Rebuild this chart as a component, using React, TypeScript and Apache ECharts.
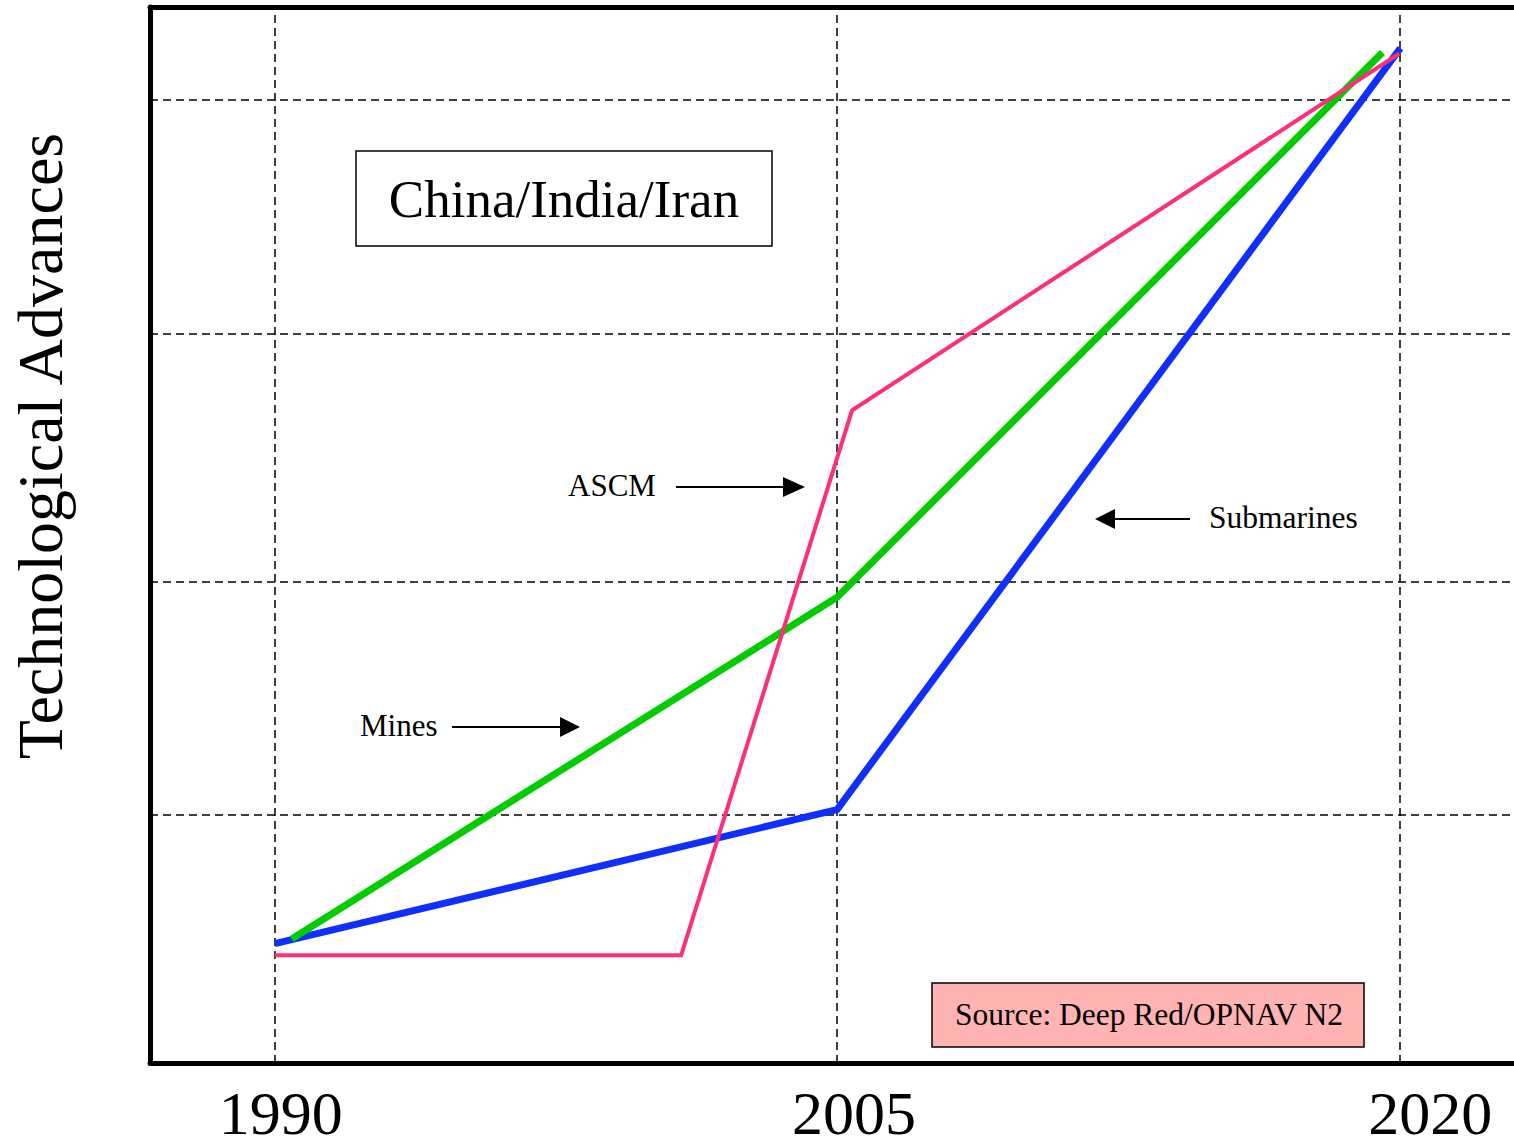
import React, { useEffect, useRef } from "react";
import * as echarts from "echarts";

// ---- data (x = year, y = relative technological level, 0..100) ----
const yearTicks = [1990, 2005, 2020];
const hGridLevels = [23.5, 45.6, 69.1, 91.2];

const submarinesYears = [1990, 2005, 2020.03];
const submarinesLevels = [11.3, 24.0, 96.1];

const minesYears = [1990.45, 2005, 2019.55];
const minesLevels = [11.75, 44.1, 95.7];

const ascmYears = [1990, 2000.84, 2005.4, 2020];
const ascmLevels = [10.2, 10.2, 61.8, 95.6];

const seriesNames = ["Submarines", "Mines", "ASCM"];

const FONT = "'Liberation Serif', 'Times New Roman', Times, serif";

const zip = (xs: number[], ys: number[]) => xs.map((x, i) => [x, ys[i]]);

// label horizontal nudges (style only)
const labelPadLeft = [12, 34, 62];

export default function App() {
  const ref = useRef<HTMLDivElement>(null);

  useEffect(() => {
    if (!ref.current) return;
    const chart = echarts.init(ref.current, undefined, { renderer: "svg" });

    const rich: any = {};
    labelPadLeft.forEach((p, i) => {
      rich["l" + i] = {
        fontSize: 62,
        fontFamily: FONT,
        color: "#000",
        lineHeight: 46,
        padding: [0, 0, 0, p],
      };
    });

    const gridLineStyle = { color: "#000", type: [8, 5], width: 1.5 };

    const option: any = {
      animation: false,
      backgroundColor: "#fff",
      grid: { left: 148, top: 7, right: 0, bottom: 76, containLabel: false },
      xAxis: [
        {
          type: "value",
          min: 1986.67,
          max: 2023.06,
          position: "bottom",
          axisLine: { show: true, onZero: false, lineStyle: { color: "#000", width: 5 } },
          axisTick: { show: false },
          splitLine: { show: false },
          axisLabel: {
            customValues: yearTicks,
            margin: 27,
            fontSize: 62,
            lineHeight: 46,
            fontFamily: FONT,
            color: "#000",
            formatter: (v: number) => {
              const i = yearTicks.indexOf(Math.round(v));
              return i >= 0 ? `{l${i}|${Math.round(v)}}` : "";
            },
            rich,
          },
        },
        {
          type: "value",
          min: 1986.67,
          max: 2023.06,
          position: "top",
          axisLine: { show: true, onZero: false, lineStyle: { color: "#000", width: 5 } },
          axisTick: { show: false },
          axisLabel: { show: false },
          splitLine: { show: false },
        },
      ],
      yAxis: {
        type: "value",
        min: 0,
        max: 100,
        axisLine: { show: true, onZero: false, lineStyle: { color: "#000", width: 5 } },
        axisTick: { show: false },
        axisLabel: { show: false },
        splitLine: { show: false },
        name: "Technological Advances",
        nameLocation: "middle",
        nameRotate: 90,
        nameGap: 78,
        nameTextStyle: {
          fontSize: 64,
          fontFamily: FONT,
          color: "#000",
          padding: [0, 0, 0, 178],
        },
      },
      series: [
        {
          name: "grid",
          type: "line",
          data: [[1990, 0]],
          showSymbol: false,
          symbol: "none",
          lineStyle: { opacity: 0 },
          silent: true,
          z: 1,
          markLine: {
            z: 1,
            silent: true,
            symbol: ["none", "none"],
            label: { show: false },
            lineStyle: gridLineStyle,
            emphasis: { disabled: true },
            data: [
              ...yearTicks.map((y) => ({ xAxis: y })),
              ...hGridLevels.map((l) => ({ yAxis: l })),
            ],
          },
        },
        {
          name: seriesNames[0],
          type: "line",
          data: zip(submarinesYears, submarinesLevels),
          symbol: "none",
          lineStyle: { color: "#0f2fff", width: 7, cap: "butt", join: "miter" },
          itemStyle: { color: "#0f2fff" },
          z: 3,
        },
        {
          name: seriesNames[1],
          type: "line",
          data: zip(minesYears, minesLevels),
          symbol: "none",
          lineStyle: { color: "#00cc00", width: 7, cap: "butt", join: "miter" },
          itemStyle: { color: "#00cc00" },
          z: 4,
        },
        {
          name: seriesNames[2],
          type: "line",
          data: zip(ascmYears, ascmLevels),
          symbol: "none",
          lineStyle: { color: "#ff2e78", width: 4, cap: "butt", join: "miter" },
          itemStyle: { color: "#ff2e78" },
          z: 5,
        },
      ],
      graphic: [
        {
          type: "rect",
          z: 10,
          shape: { x: 356, y: 151, width: 416, height: 95 },
          style: { fill: "#fff", stroke: "#000", lineWidth: 1.5 },
        },
        {
          type: "text",
          z: 11,
          x: 564,
          y: 199,
          style: {
            text: "China/India/Iran",
            fontSize: 53,
            fontFamily: FONT,
            fill: "#000",
            align: "center",
            verticalAlign: "middle",
          },
        },
        {
          type: "rect",
          z: 10,
          shape: { x: 932, y: 983, width: 432, height: 64 },
          style: { fill: "#ffb3b3", stroke: "#000", lineWidth: 1.5 },
        },
        {
          type: "text",
          z: 11,
          x: 1149,
          y: 1014,
          style: {
            text: "Source: Deep Red/OPNAV N2",
            fontSize: 31.5,
            fontFamily: FONT,
            fill: "#000",
            align: "center",
            verticalAlign: "middle",
          },
        },
        // ASCM annotation
        {
          type: "text",
          z: 11,
          x: 568,
          y: 485,
          style: { text: seriesNames[2], fontSize: 31, fontFamily: FONT, fill: "#000", align: "left", verticalAlign: "middle" },
        },
        {
          type: "line",
          z: 11,
          shape: { x1: 676, y1: 487, x2: 786, y2: 487 },
          style: { stroke: "#000", lineWidth: 2 },
        },
        {
          type: "polygon",
          z: 11,
          shape: { points: [[783, 477], [805, 487], [783, 497]] },
          style: { fill: "#000" },
        },
        // Mines annotation
        {
          type: "text",
          z: 11,
          x: 360,
          y: 725,
          style: { text: seriesNames[1], fontSize: 31, fontFamily: FONT, fill: "#000", align: "left", verticalAlign: "middle" },
        },
        {
          type: "line",
          z: 11,
          shape: { x1: 452, y1: 727, x2: 562, y2: 727 },
          style: { stroke: "#000", lineWidth: 2 },
        },
        {
          type: "polygon",
          z: 11,
          shape: { points: [[560, 717], [580, 727], [560, 737]] },
          style: { fill: "#000" },
        },
        // Submarines annotation
        {
          type: "text",
          z: 11,
          x: 1209,
          y: 517,
          style: { text: seriesNames[0], fontSize: 31.5, fontFamily: FONT, fill: "#000", align: "left", verticalAlign: "middle" },
        },
        {
          type: "line",
          z: 11,
          shape: { x1: 1113, y1: 519, x2: 1190, y2: 519 },
          style: { stroke: "#000", lineWidth: 2 },
        },
        {
          type: "polygon",
          z: 11,
          shape: { points: [[1115, 509], [1095, 519], [1115, 529]] },
          style: { fill: "#000" },
        },
      ],
    };

    chart.setOption(option);
    return () => chart.dispose();
  }, []);

  return (
    <div
      ref={ref}
      style={{ position: "fixed", left: 0, top: 0, width: 1514, height: 1144, background: "#fff" }}
    />
  );
}
